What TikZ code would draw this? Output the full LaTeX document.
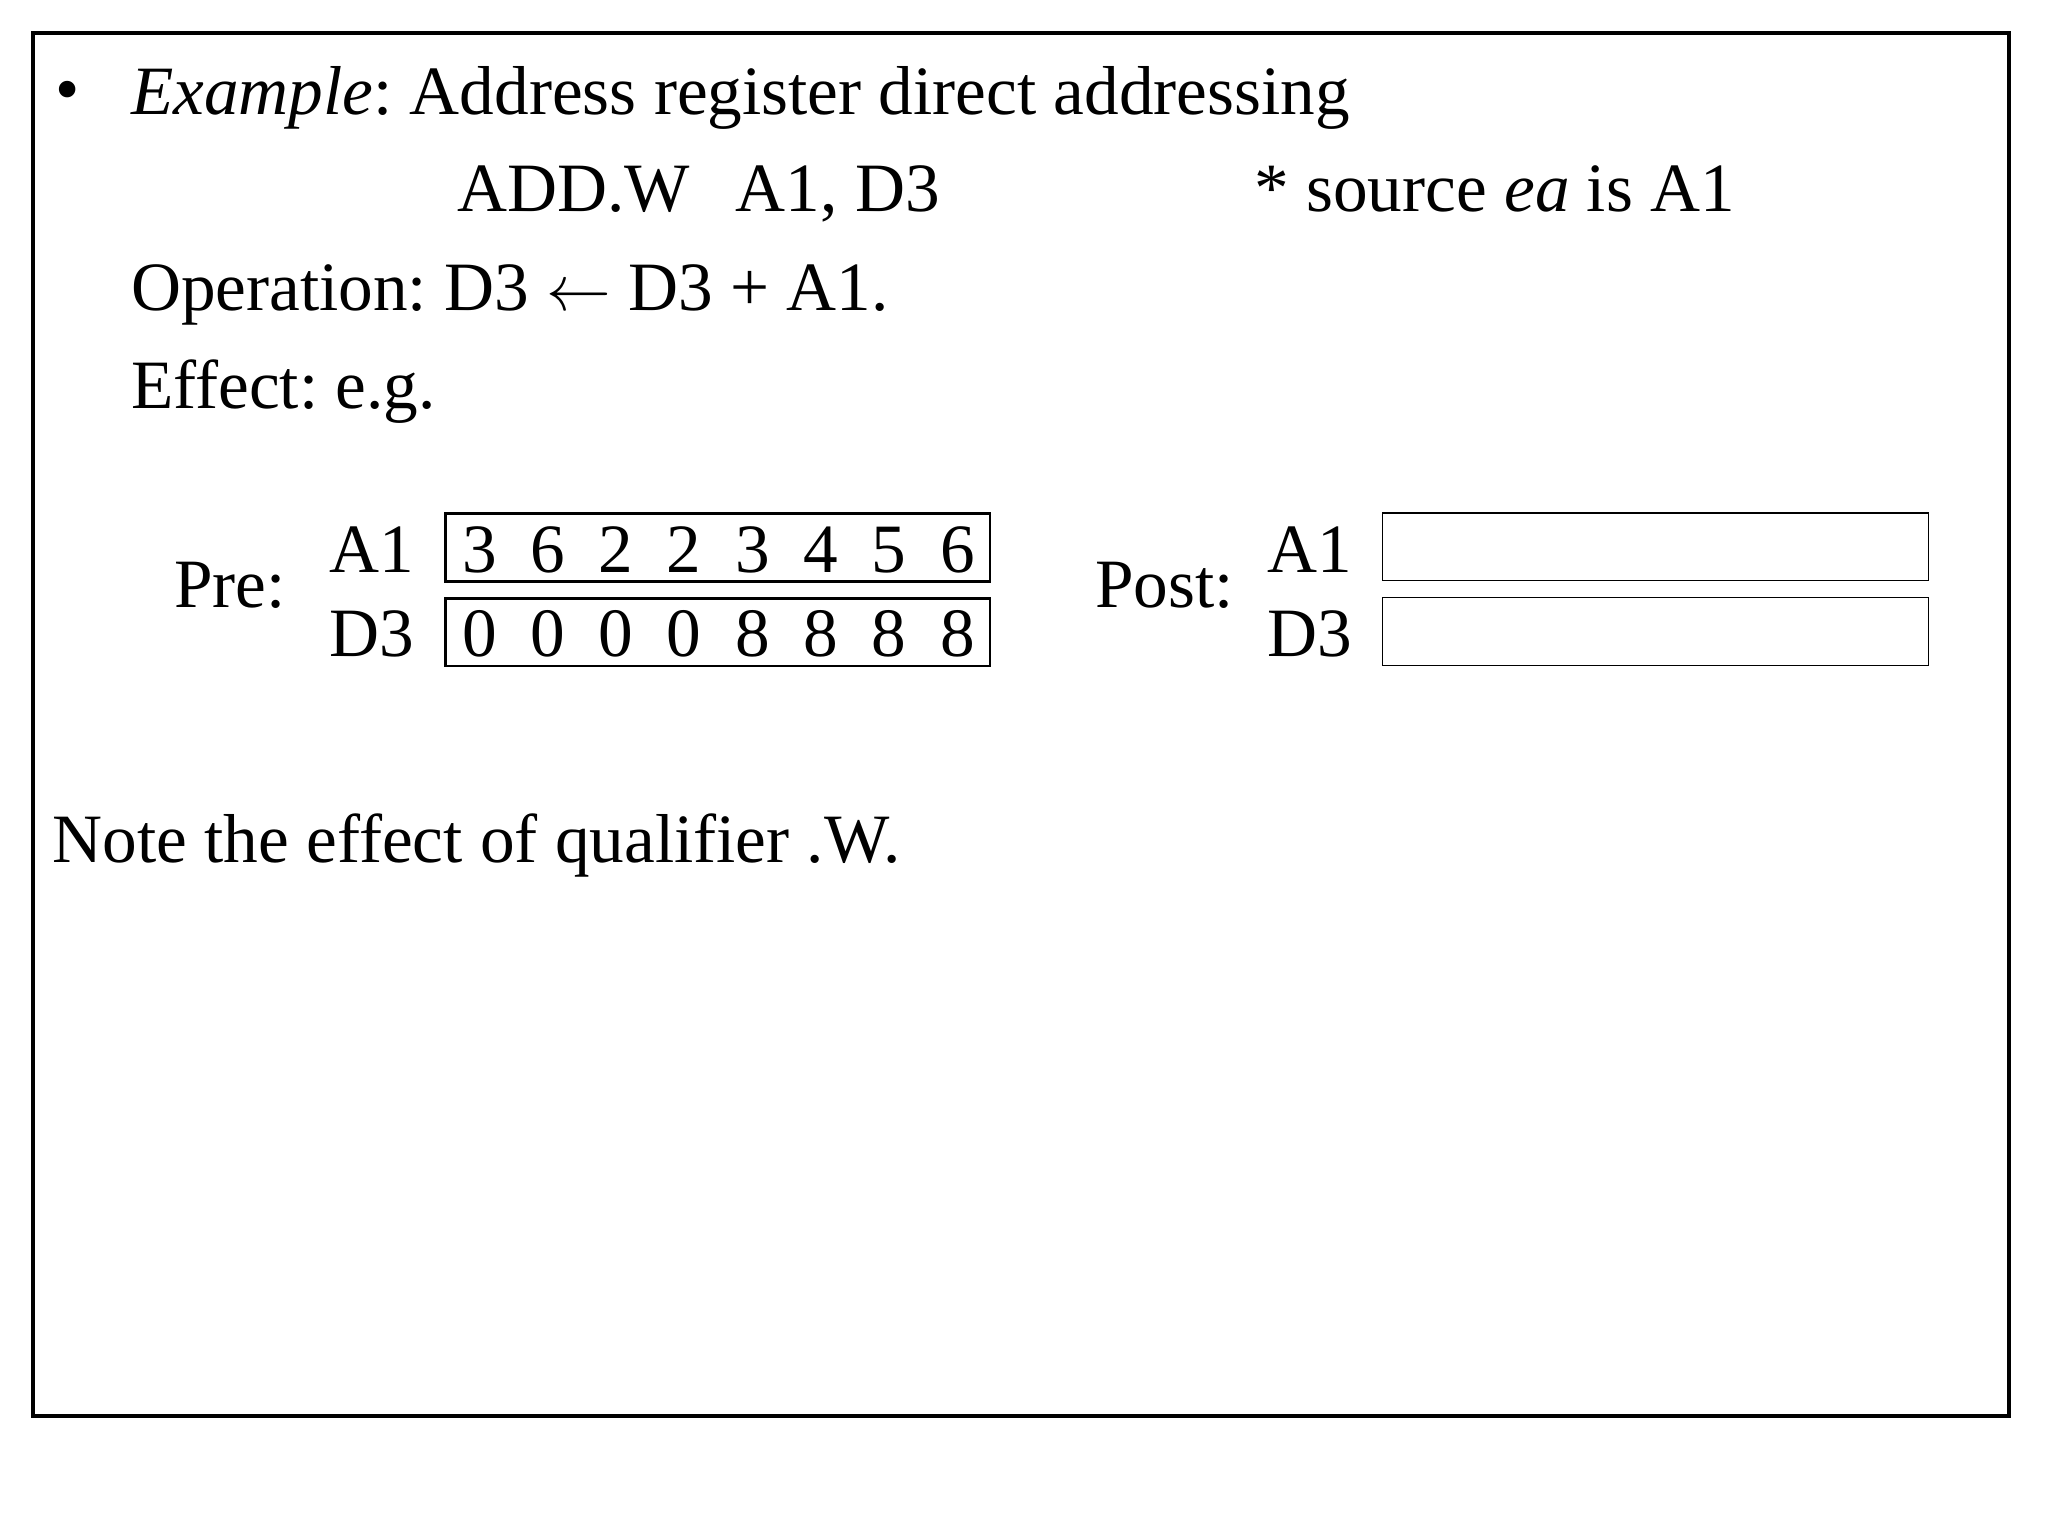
\documentclass[tikz,border=0pt]{standalone}
\usepackage{fontspec}
\setmainfont{Liberation Serif}
\frenchspacing
\begin{document}
\begin{tikzpicture}[x=0.5bp,y=-0.5bp,
  txt/.style={anchor=base west,inner sep=0pt,font=\fontsize{26.6}{30}\selectfont},
  reg/.style={draw,line width=1bp,minimum width=208.5bp,minimum height=26bp,inner sep=0pt,anchor=north west},
  regp/.style={draw,line width=0.6bp,minimum width=209bp,minimum height=26bp,inner sep=0pt,anchor=north west}]
\useasboundingbox (0,0) rectangle (1568,1176);
\draw[line width=1.5bp] (25,25) rectangle (1538,1084);
\node[txt] (b) at (42,86) {•};
\node[txt] (l1) at (100,88) {\textit{Example}: Address register direct addressing};
\node[txt] (l2a) at (350,162) {ADD.W};
\node[txt] (l2b) at (563,162) {A1, D3};
\node[txt] (l2c) at (960,162) {* source \textit{ea} is A1};
\node[txt] (l3) at (100,238) {Operation: D3 $\leftarrow$ D3 + A1.};
\node[txt] (l4) at (100,313) {Effect: e.g.};
\node[txt] (pre) at (133,465) {Pre:};
\node[txt] (a1) at (252,438) {A1};
\node[txt] (d3) at (252,503) {D3};
\node[reg] (ra) at (340,392) {};
\node[reg] (rd) at (340,457) {};
\foreach \d [count=\i from 0] in {3,6,2,2,3,4,5,6}
  \node[txt,anchor=base] (ad\i) at (367+52.3*\i,438) {\d};
\foreach \d [count=\i from 0] in {0,0,0,0,8,8,8,8}
  \node[txt,anchor=base] (dd\i) at (367+52.3*\i,503) {\d};
\node[txt] (post) at (838,465) {Post:};
\node[txt] (pa1) at (970,438) {A1};
\node[txt] (pd3) at (970,503) {D3};
\node[regp] (pra) at (1058,392) {};
\node[regp] (prd) at (1058,457) {};
\node[txt] (note) at (40,660) {Note the effect of qualifier .W.};
\end{tikzpicture}
\end{document}
